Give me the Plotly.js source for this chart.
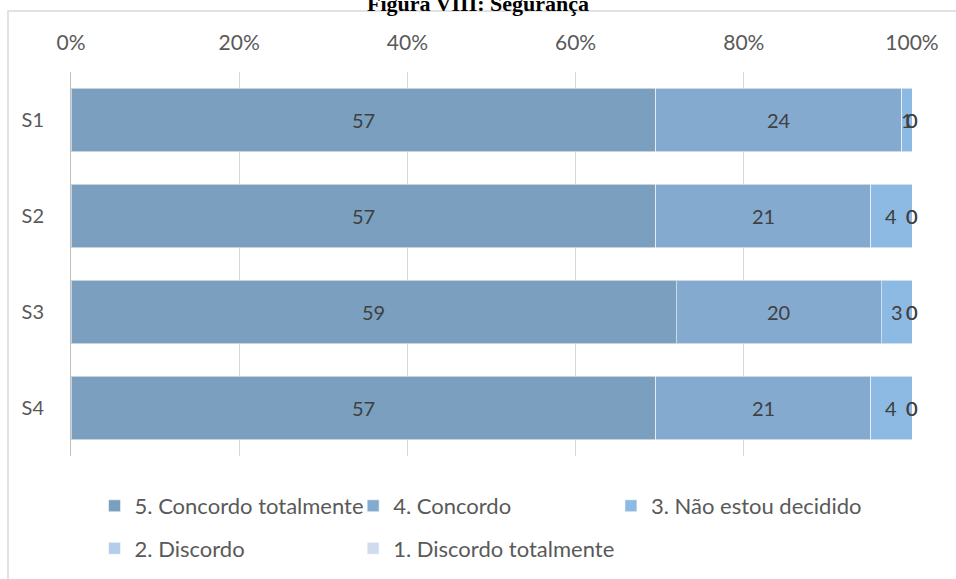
<!DOCTYPE html>
<html>
<head>
<meta charset="utf-8">
<script src="https://cdn.plot.ly/plotly-3.0.1.min.js"></script>
<style>html,body{margin:0;padding:0;background:#fff;}#chart{width:956px;height:579px;}</style>
</head>
<body>
<div id="chart"></div>
<script>
const categories = ['S1', 'S2', 'S3', 'S4'];
const seriesNames = ['5. Concordo totalmente', '4. Concordo', '3. Não estou decidido', '2. Discordo', '1. Discordo totalmente'];
const concordoTotalmente = [57, 57, 59, 57];
const concordo = [24, 21, 20, 21];
const naoDecidido = [1, 4, 3, 4];
const discordo = [0, 0, 0, 0];
const discordoTotalmente = [0, 0, 0, 0];
const seriesValues = [concordoTotalmente, concordo, naoDecidido, discordo, discordoTotalmente];
const colors = ['#7b9fbf', '#85aad0', '#8dbae2', '#b4cde9', '#d0dcee'];
const legendIds = ['legend', 'legend2', 'legend3', 'legend', 'legend2'];
const chartTitle = 'Figura VIII: Segurança';

const FONT = 'Lato, "Open Sans", sans-serif';

const traces = seriesValues.map((vals, i) => ({
  type: 'bar',
  orientation: 'h',
  name: seriesNames[i],
  y: categories,
  x: vals,
  marker: {color: colors[i], line: {color: 'rgba(255,255,255,0.55)', width: 1}},
  legend: legendIds[i],
  legendgroup: 'g' + i,
  textposition: 'none',
  hoverinfo: 'name+x'
}));

// data labels centred in each segment (in percent of row total)
const annotations = [];
categories.forEach((cat, j) => {
  const total = seriesValues.reduce((s, arr) => s + arr[j], 0);
  let cum = 0;
  seriesValues.forEach((arr, i) => {
    const v = arr[j];
    const center = (cum + v / 2) / total * 100;
    cum += v;
    annotations.push({
      x: center, y: cat, xref: 'x', yref: 'y',
      text: String(v), showarrow: false,
      font: {family: FONT, size: 20, color: '#404040'}
    });
  });
});

const legendBase = {
  orientation: 'v', traceorder: 'grouped', tracegroupgap: 11,
  font: {family: FONT, size: 22, color: '#595959'},
  bgcolor: 'rgba(0,0,0,0)', yanchor: 'top', xanchor: 'left', y: -0.0754
};

const layout = {
  width: 956, height: 579,
  margin: {l: 71, r: 44, t: 72, b: 123, autoexpand: false},
  paper_bgcolor: '#ffffff', plot_bgcolor: '#ffffff',
  barmode: 'stack', barnorm: 'percent', bargap: 0.34,
  font: {family: FONT, color: '#595959'},
  title: {
    text: '<b>' + chartTitle + '</b>',
    font: {family: '"Liberation Serif", "Times New Roman", serif', size: 22, color: '#000000'},
    xref: 'container', yref: 'container', x: 0.5, y: 0.9948, xanchor: 'center', yanchor: 'middle',
    automargin: false
  },
  xaxis: {
    side: 'top', range: [0, 100], dtick: 20, ticksuffix: '%',
    showgrid: true, gridcolor: '#d9d9d9', gridwidth: 1, zeroline: false,
    ticks: '', showline: false, ticklabelstandoff: 17,
    tickfont: {family: FONT, size: 21, color: '#595959'}, fixedrange: true
  },
  yaxis: {
    type: 'category', categoryorder: 'array', categoryarray: categories,
    autorange: 'reversed', showgrid: false, zeroline: false,
    showline: true, linecolor: '#bfbfbf', linewidth: 1, ticks: '',
    ticklabelstandoff: 22,
    tickfont: {family: FONT, size: 20, color: '#595959'}, fixedrange: true
  },
  showlegend: true,
  legend: Object.assign({}, legendBase, {x: 0.028}),
  legend2: Object.assign({}, legendBase, {x: 0.3355}),
  legend3: Object.assign({}, legendBase, {x: 0.642}),
  annotations: annotations,
  shapes: [{
    type: 'rect', xref: 'paper', yref: 'paper',
    x0: -0.0749, x1: 1.06, y0: -0.36, y1: 1.159,
    line: {color: '#d9d9d9', width: 1.5}, fillcolor: 'rgba(0,0,0,0)', layer: 'below'
  }]
};

Plotly.newPlot('chart', traces, layout, {displayModeBar: false, staticPlot: true});
</script>
</body>
</html>
